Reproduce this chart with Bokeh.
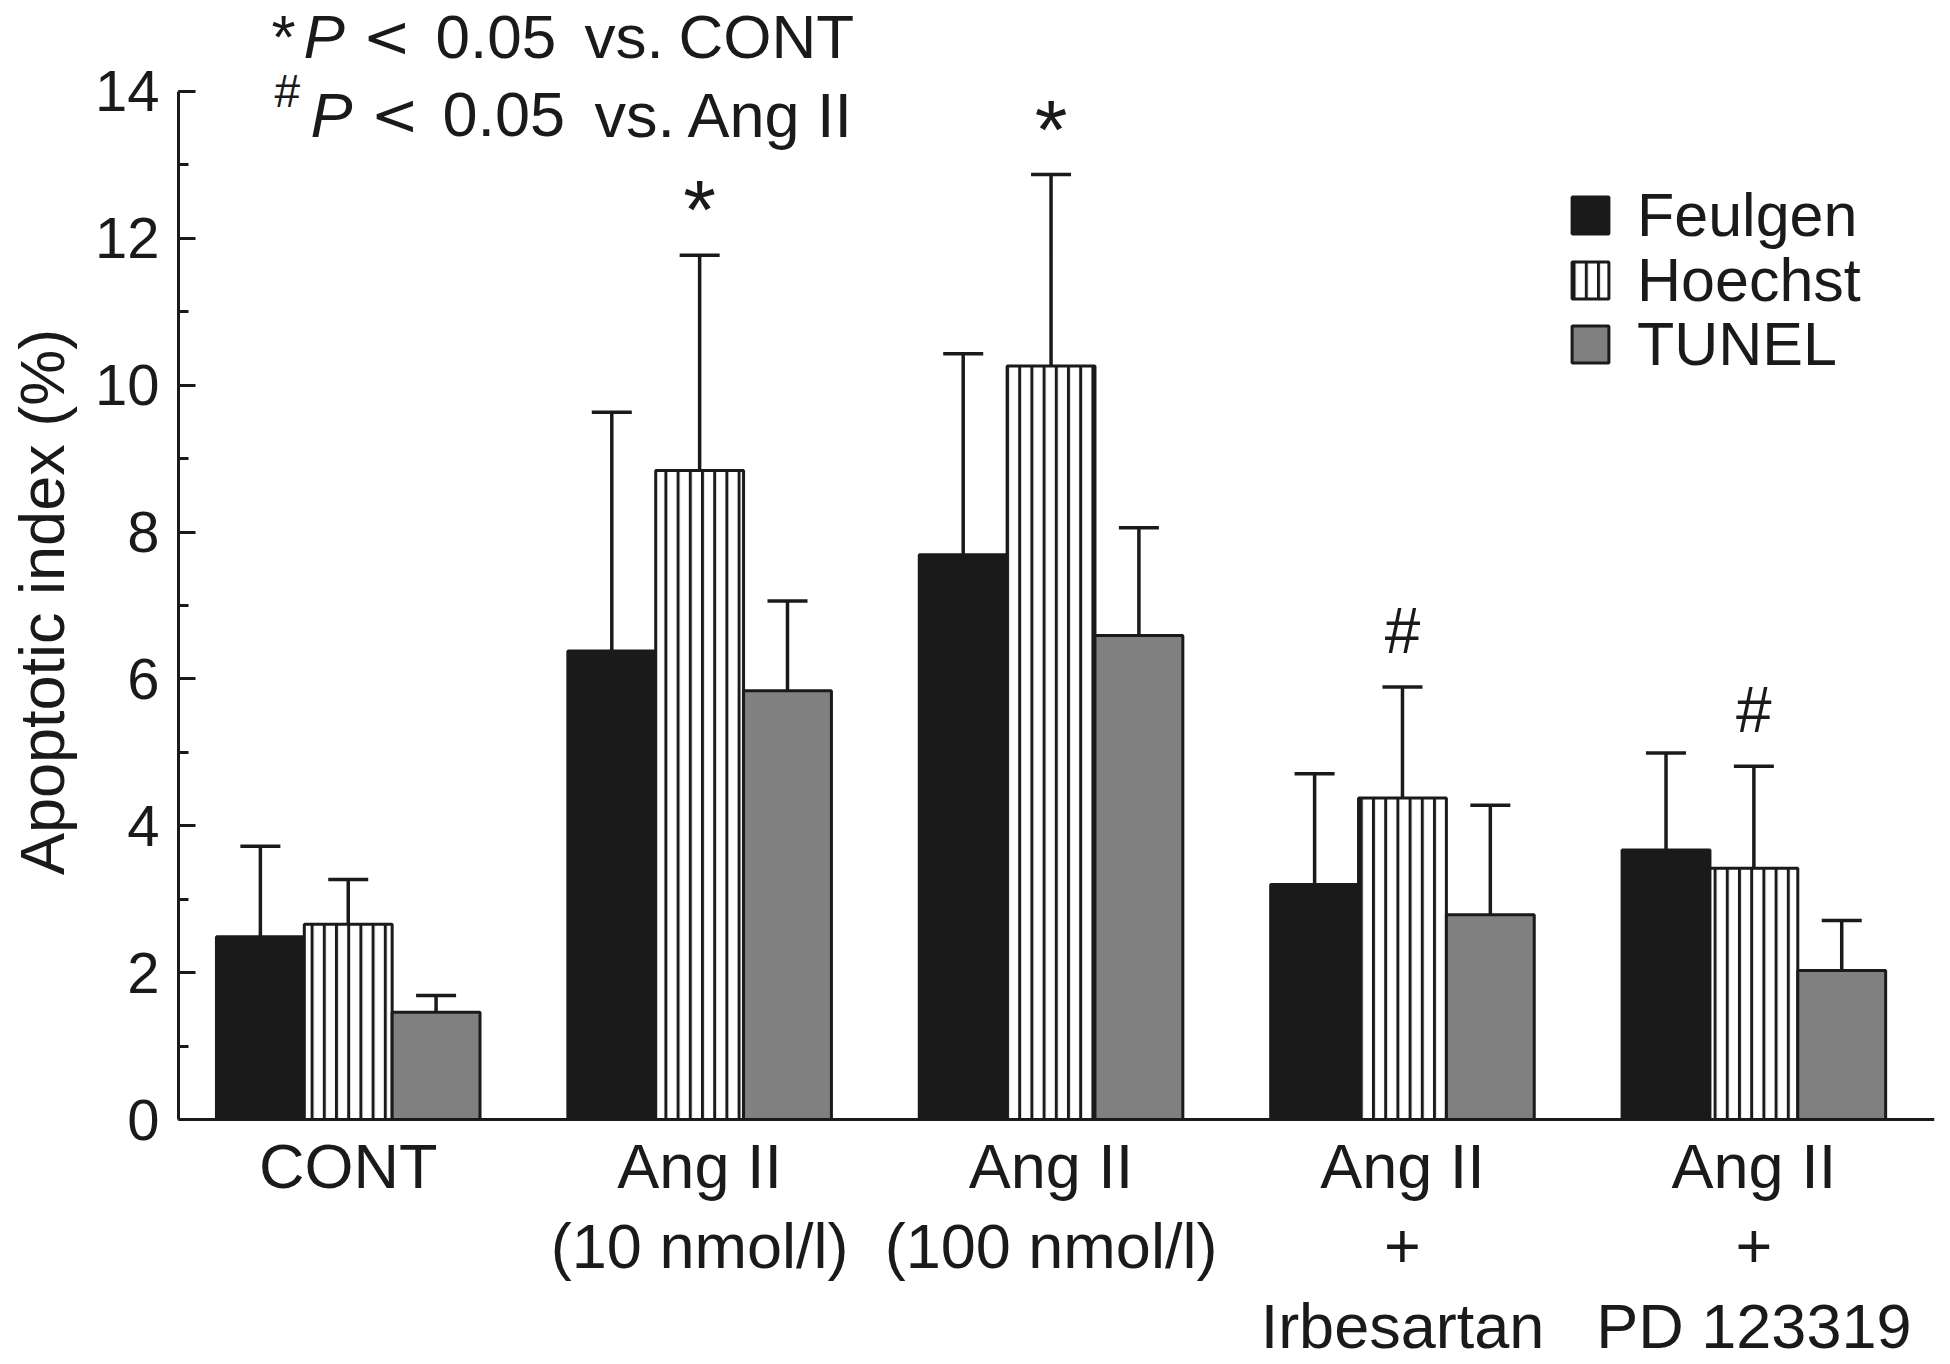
from bokeh.plotting import figure
from bokeh.models import (ColumnDataSource, Range1d, SingleIntervalTicker,
                          Whisker, TeeHead, Legend, LegendItem, Label, Span)
from bokeh.core.properties import value
from bokeh.embed import file_html
from bokeh.resources import INLINE

# ---- data ----
groups = ["CONT", "Ang II\n(10 nmol/l)", "Ang II\n(100 nmol/l)",
          "Ang II\n+\nIrbesartan", "Ang II\n+\nPD 123319"]
series = ["Feulgen", "Hoechst", "TUNEL"]
feulgen = [2.49, 6.38, 7.69, 3.20, 3.67]
feulgen_sd = [1.23, 3.25, 2.74, 1.51, 1.32]
hoechst = [2.66, 8.84, 10.26, 4.38, 3.42]
hoechst_sd = [0.61, 2.93, 2.61, 1.51, 1.39]
tunel = [1.46, 5.84, 6.59, 2.79, 2.03]
tunel_sd = [0.23, 1.22, 1.47, 1.49, 0.68]
marks = ["", "*", "*", "#", "#"]
y_min, y_max, y_step = 0, 14, 2

FONT = "Liberation Sans"
BLACK = "#1a1a1a"
PX_PER_UNIT = 73.43   # vertical scale of the frame (px per % point)
Y0_PX = 1119          # page row of value 0
W, H = 1950, 1364
LEFT = 178            # page column of the y axis

p = figure(width=W, height=H, output_backend="svg", toolbar_location=None,
           x_axis_location=None,
           x_range=Range1d(-0.483, 4.514),
           y_range=Range1d(-(H - Y0_PX) / PX_PER_UNIT, Y0_PX / PX_PER_UNIT),
           min_border_left=LEFT, min_border_right=16, min_border_top=0, min_border_bottom=0)
p.outline_line_color = None
p.xgrid.visible = False
p.ygrid.visible = False
p.background_fill_color = "white"

idx = list(range(len(groups)))
offsets = [-0.25, 0.0, 0.25]
vals = [feulgen, hoechst, tunel]
sds = [feulgen_sd, hoechst_sd, tunel_sd]
fills = [BLACK, "white", "#808080"]
hatches = [None, "|", None]

renderers = []
for k in range(3):
    xs = [i + offsets[k] for i in idx]
    src = ColumnDataSource(dict(x=xs, top=vals[k],
                                upper=[v + s for v, s in zip(vals[k], sds[k])]))
    kw = {}
    if hatches[k]:
        kw = dict(hatch_pattern=hatches[k], hatch_color=BLACK, hatch_scale=12.2, hatch_weight=3)
    r = p.vbar(x="x", top="top", bottom=0, width=0.25, source=src,
               fill_color=fills[k], line_color=BLACK, line_width=3, **kw)
    renderers.append(r)
    w = Whisker(source=src, base="x", lower="top", upper="upper",
                line_color=BLACK, line_width=3.5, lower_head=None,
                upper_head=TeeHead(size=40, line_color=BLACK, line_width=3.5))
    p.add_layout(w)

# x axis line at y = 0
p.add_layout(Span(location=0, dimension="width", line_color=BLACK, line_width=3))

# category labels below the axis
p.text(x=idx, y=[-0.16] * len(idx), text=groups, text_align="center", text_baseline="top",
       text_font=value(FONT), text_font_size="63px", text_color=BLACK, text_line_height=1.14)

# significance marks above Hoechst bars
pad = {"*": 0.61, "#": 0.76}
size = {"*": "84px", "#": "64px"}
mx, my, mt, ms = [], [], [], []
for i, m in enumerate(marks):
    if m:
        mx.append(i)
        my.append(hoechst[i] + hoechst_sd[i] + pad[m])
        mt.append(m)
        ms.append(size[m])
msrc = ColumnDataSource(dict(x=mx, y=my, t=mt, s=ms))
p.text(x="x", y="y", text="t", source=msrc, text_align="center", text_baseline="alphabetic",
       text_font=value(FONT), text_font_size="s", text_color=BLACK)

# y axis
p.yaxis.bounds = (y_min, y_max)
p.yaxis.ticker = SingleIntervalTicker(interval=y_step, num_minor_ticks=2)
p.yaxis.axis_label = "\u2002\u2002\u2002\u2002\u00a0\u00a0Apoptotic index (%)"
p.yaxis.axis_label_text_font = FONT
p.yaxis.axis_label_text_font_style = "normal"
p.yaxis.axis_label_text_font_size = "63px"
p.yaxis.axis_label_text_color = BLACK
p.yaxis.axis_label_standoff = 15
p.yaxis.major_label_text_font = FONT
p.yaxis.major_label_text_font_size = "58px"
p.yaxis.major_label_text_color = BLACK
p.yaxis.major_label_standoff = 19
p.yaxis.axis_line_width = 3
p.yaxis.axis_line_color = BLACK
p.yaxis.major_tick_in = 17
p.yaxis.major_tick_out = 0
p.yaxis.minor_tick_in = 10
p.yaxis.minor_tick_out = 0
p.yaxis.major_tick_line_width = 3
p.yaxis.minor_tick_line_width = 3
p.yaxis.major_tick_line_color = BLACK
p.yaxis.minor_tick_line_color = BLACK

# legend: one entry per row, rows centred at these page rows
row_centres = [215, 280, 344]
for s, r, c in zip(series, renderers, row_centres):
    leg = Legend(items=[LegendItem(label=s, renderers=[r])],
                 location=(1389, H - (c + 35)), glyph_width=46, glyph_height=46, label_height=46,
                 spacing=0, padding=0, margin=0, label_standoff=24,
                 label_text_font=FONT, label_text_font_size="61px", label_text_color=BLACK,
                 border_line_color=None, background_fill_alpha=0)
    p.add_layout(leg, "center")

# significance note at top-left (pieces placed in page pixels)
def ydat(page_y):
    return (Y0_PX - page_y) / PX_PER_UNIT

def xdat(page_x):
    return -0.483 + (page_x - LEFT) / 351.4

notes = [
    ("*", FONT, "normal", "62px", 271, 36),
    ("P", FONT, "italic", "62px", 303, 36),
    ("<", "DejaVu Sans", "normal", "58px", 362, 36),
    ("0.05", FONT, "normal", "62px", 435, 36),
    ("vs.", FONT, "normal", "62px", 584, 36),
    ("CONT", FONT, "normal", "62px", 678, 36),
    ("#", FONT, "normal", "46px", 274, 90),
    ("P", FONT, "italic", "63px", 310, 114),
    ("<", "DejaVu Sans", "normal", "58px", 370, 114),
    ("0.05", FONT, "normal", "63px", 442, 114),
    ("vs.", FONT, "normal", "63px", 594, 114),
    ("Ang II", FONT, "normal", "63px", 687, 114),
]
for t, f, st, sz, fx, fy in notes:
    p.add_layout(Label(x=xdat(fx), y=ydat(fy), text=t, text_font=f, text_font_style=st,
                       text_font_size=sz, text_color=BLACK, text_baseline="alphabetic"))

open("out.html", "w").write(file_html(p, INLINE))
